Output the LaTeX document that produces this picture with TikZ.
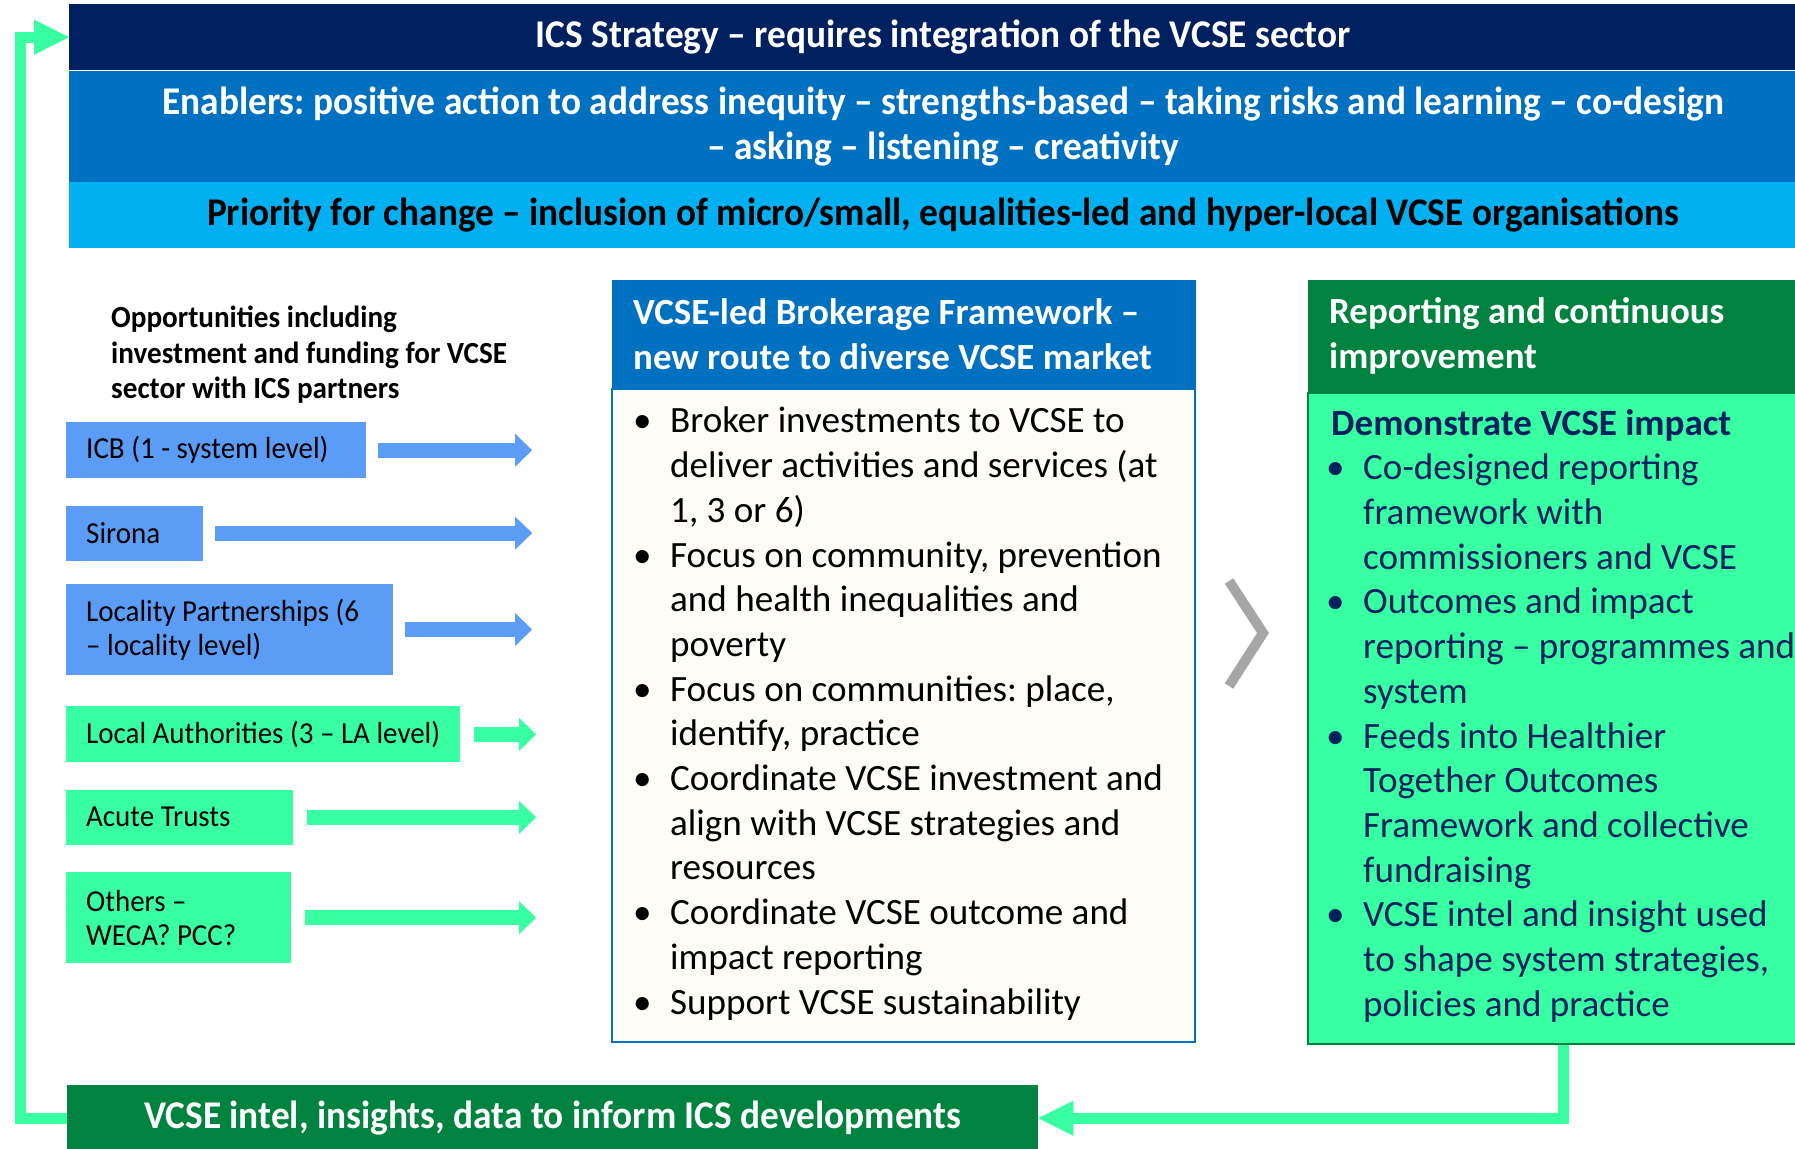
\documentclass[tikz,border=0pt]{standalone}
\usepackage{fontspec}
\setmainfont{Carlito}
\newfontfamily\nrw[FakeStretch=0.95]{Carlito}
\usetikzlibrary{positioning,arrows.meta}
\frenchspacing

\definecolor{navy}{HTML}{002060}
\definecolor{midblue}{HTML}{0070C0}
\definecolor{skyblue}{HTML}{00B0F0}
\definecolor{boxblue}{HTML}{5B9CF6}
\definecolor{mint}{HTML}{38FFA2}
\definecolor{darkgreen}{HTML}{00833E}
\definecolor{paper}{HTML}{FDFCF7}
\definecolor{chevgray}{HTML}{A6A6A6}

\newcommand{\bandfont}{\nrw\bfseries\fontsize{39.3}{45}\selectfont}
\newcommand{\oppfont}{\nrw\bfseries\fontsize{30.7}{35.5}\selectfont}
\newcommand{\boxfont}{\nrw\fontsize{30.5}{34}\selectfont}
\newcommand{\hdfont}{\bfseries\fontsize{36.9}{45}\selectfont}
\newcommand{\bodyfont}{\fontsize{37.1}{44.7}\selectfont}
% left aligned block of given width
\newcommand{\lblock}[2]{\parbox{#1}{\raggedright #2}}
% top aligned block: width, height
\newcommand{\tblock}[3]{\parbox[c][#2][t]{#1}{\raggedright #3}}
% bullet with hanging indent
\newcommand{\bitem}[1]{\par\noindent\hangindent=32pt\hangafter=1\makebox[32pt][l]{\hspace{-5pt}\textbullet}#1}

\tikzset{
  band/.style={anchor=north west, minimum width=1748pt, inner sep=0pt,
    align=center, font=\bandfont},
  lbox/.style={anchor=north west, inner xsep=20pt, inner ysep=0pt, font=\boxfont},
  blockarrow/.style={line width=15pt, -{Triangle[length=17pt,width=33pt,line width=0.1pt]}},
  feedback/.style={mint, line width=11pt, -{Triangle[length=35pt,width=35pt,line width=0.1pt]}},
}

\begin{document}
\begin{tikzpicture}[x=1pt,y=-1pt]
  \fill[white] (0,0) rectangle (1795,1148);
  \useasboundingbox (0,0) rectangle (1795,1148);

  % top bands
  \node[band, fill=navy, text=white, minimum height=66pt] (ics) at (69,4)
    {ICS Strategy – requires integration of the VCSE sector};
  \node[band, fill=midblue, text=white, minimum height=111pt, below=0pt of ics] (enab)
    {Enablers: positive action to address inequity – strengths-based – taking risks and learning – co-design\\– asking – listening – creativity};
  \node[band, fill=skyblue, minimum height=66pt, below=0pt of enab] (prio)
    {Priority for change – inclusion of micro/small, equalities-led and hyper-local VCSE organisations};

  % opportunities
  \node[anchor=north west, inner sep=0pt, align=left, font=\oppfont] (opps) at (111,306)
    {Opportunities including\\investment and funding for VCSE\\sector with ICS partners};

  \node[lbox, fill=boxblue, minimum height=56pt] (icb) at (66,422) {\lblock{260pt}{ICB (1 - system level)}};
  \node[lbox, fill=boxblue, minimum height=55pt, below=27pt of icb.south west, anchor=north west] (sirona)
    {\lblock{97pt}{Sirona}};
  \node[lbox, fill=boxblue, minimum height=91pt, below=23pt of sirona.south west, anchor=north west] (local)
    {\lblock{287pt}{Locality Partnerships (6\\– locality level)}};
  \node[lbox, fill=mint, minimum height=56pt, below=31pt of local.south west, anchor=north west] (la)
    {\lblock{354pt}{Local Authorities (3 – LA level)}};
  \node[lbox, fill=mint, minimum height=55pt, below=27pt of la.south west, anchor=north west] (acute)
    {\lblock{187pt}{Acute Trusts}};
  \node[lbox, fill=mint, minimum height=91pt, below=27pt of acute.south west, anchor=north west] (others)
    {\lblock{185pt}{Others –\\WECA? PCC?}};

  \coordinate (bluetip) at (532,0);
  \coordinate (greentip) at (536,0);
  \foreach \n in {icb,sirona,local}
    \draw[blockarrow, boxblue] ([xshift=12pt]\n.east) -- (\n.east -| bluetip);
  \foreach \n in {la,acute,others}
    \draw[blockarrow, mint] ([xshift=14pt]\n.east) -- (\n.east -| greentip);

  % brokerage framework
  \node[anchor=north west, fill=midblue, draw=midblue, minimum height=108pt,
    inner xsep=21pt, inner ysep=0pt, text=white, font=\hdfont] (brokhead) at (612,280)
    {\lblock{541pt}{VCSE-led Brokerage Framework –\\new route to diverse VCSE market}};
  \node[below=0pt of brokhead, fill=paper, draw=midblue, line width=1.5pt, minimum height=653pt,
    inner xsep=26pt, inner ysep=0pt, font=\bodyfont] (brokbody)
    {\tblock{531pt}{617pt}{%
     \bitem{Broker investments to VCSE to\newline deliver activities and services (at\newline 1, 3 or 6)}
     \bitem{Focus on community, prevention\newline and health inequalities and\newline poverty}
     \bitem{Focus on communities: place,\newline identify, practice}
     \bitem{Coordinate VCSE investment and\newline align with VCSE strategies and\newline resources}
     \bitem{Coordinate VCSE outcome and\newline impact reporting}
     \bitem{Support VCSE sustainability}}};

  \draw[chevgray, line width=10pt] (1229,581) -- (1263,633) -- (1229,686);

  % reporting
  \node[anchor=north west, fill=darkgreen, minimum height=112pt, inner xsep=21pt, inner ysep=0pt,
    text=white, font=\hdfont] (rephead) at (1308,280)
    {\lblock{468pt}{Reporting and continuous\\improvement}};
  \node[below=0pt of rephead, fill=mint, draw=darkgreen, line width=1.5pt, minimum height=651pt,
    inner xsep=23pt, inner ysep=0pt, text=navy, font=\bodyfont] (repbody)
    {\tblock{464pt}{619pt}{%
     {\bfseries Demonstrate VCSE impact}
     \bitem{Co-designed reporting\newline framework with\newline commissioners and VCSE}
     \bitem{Outcomes and impact\newline reporting – programmes and\newline system}
     \bitem{Feeds into Healthier\newline Together Outcomes\newline Framework and collective\newline fundraising}
     \bitem{VCSE intel and insight used\newline to shape system strategies,\newline policies and practice}}};

  % bottom bar and feedback loop
  \node[anchor=north west, fill=darkgreen, minimum width=971pt, minimum height=66pt, inner sep=0pt,
    text=white, font=\bandfont] (bar) at (67,1085)
    {VCSE intel, insights, data to inform ICS developments};

  \coordinate (lx) at (20,0);
  \draw[feedback] (repbody.south) |- (bar.east);
  \draw[feedback] (bar.west) -- (bar.west -| lx) -- (ics.west -| lx) -- (ics.west);
\end{tikzpicture}
\end{document}
